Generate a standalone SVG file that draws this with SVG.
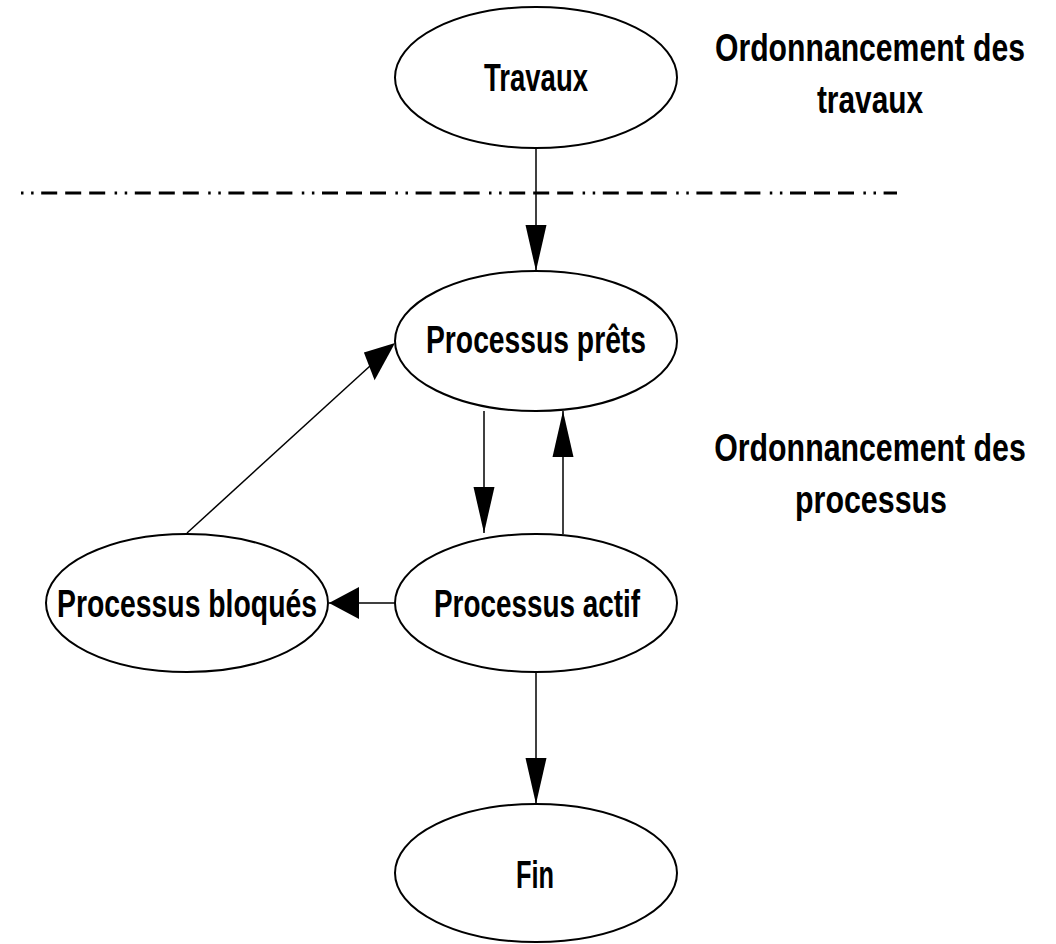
<svg xmlns="http://www.w3.org/2000/svg" width="1056" height="944" viewBox="0 0 1056 944">
  <style>
    .node ellipse { fill: #ffffff; stroke: #000000; stroke-width: 2; }
    .node text { font-family: "Liberation Sans", Arial, sans-serif; font-weight: bold; font-size: 38px; fill: #000000; text-anchor: middle; }
    .label text { font-family: "Liberation Sans", Arial, sans-serif; font-weight: bold; font-size: 39px; fill: #000000; text-anchor: middle; }
    .edge { stroke: #000000; stroke-width: 1.5; fill: none; }
    .head { fill: #000000; stroke: none; }
    .separator { stroke: #000000; stroke-width: 3; stroke-dasharray: 2.5 7.6 2.5 7.6 16 8 16 8 16 9.4; }
  </style>
  <defs>
    <!-- long narrow head for vertical connectors -->
    <marker id="arrow-v" markerUnits="userSpaceOnUse" markerWidth="46" markerHeight="21" refX="46" refY="10.5" orient="auto" overflow="visible">
      <path class="head" d="M0,0 L46,10.5 L0,21 Z"/>
    </marker>
    <!-- short wide head for horizontal connectors -->
    <marker id="arrow-h" markerUnits="userSpaceOnUse" markerWidth="30" markerHeight="32" refX="30" refY="16" orient="auto" overflow="visible">
      <path class="head" d="M0,0 L30,16 L0,32 Z"/>
    </marker>
  </defs>

  <rect x="0" y="0" width="1056" height="944" fill="#ffffff"/>

  <!-- boundary between job scheduling and process scheduling -->
  <line class="separator" x1="21" y1="193" x2="897" y2="193"/>

  <g id="connectors">
    <line class="edge" x1="536" y1="148" x2="536" y2="271" marker-end="url(#arrow-v)"/>
    <line class="edge" x1="484" y1="411" x2="484" y2="533" marker-end="url(#arrow-v)"/>
    <line class="edge" x1="563" y1="534" x2="563" y2="411" marker-end="url(#arrow-v)"/>
    <line class="edge" x1="395" y1="603" x2="329" y2="603" marker-end="url(#arrow-h)"/>
    <line class="edge" x1="187" y1="533" x2="370" y2="366"/>
    <polygon class="head" points="395,343 374.6,380.3 363.9,352.5"/>
    <line class="edge" x1="536" y1="672" x2="536" y2="804" marker-end="url(#arrow-v)"/>
  </g>

  <g id="travaux" class="node">
    <ellipse cx="536" cy="77.5" rx="141" ry="70.5"/>
    <text x="536" y="91" textLength="104" lengthAdjust="spacingAndGlyphs">Travaux</text>
  </g>

  <g id="processus-prets" class="node">
    <ellipse cx="536" cy="341" rx="141" ry="70"/>
    <text x="536" y="353" textLength="220" lengthAdjust="spacingAndGlyphs">Processus prêts</text>
  </g>

  <g id="processus-bloques" class="node">
    <ellipse cx="187" cy="603" rx="141" ry="69"/>
    <text x="187" y="617" textLength="260" lengthAdjust="spacingAndGlyphs">Processus bloqués</text>
  </g>

  <g id="processus-actif" class="node">
    <ellipse cx="536" cy="603" rx="141" ry="69"/>
    <text x="537" y="617" textLength="206" lengthAdjust="spacingAndGlyphs">Processus actif</text>
  </g>

  <g id="fin" class="node">
    <ellipse cx="536" cy="873" rx="141" ry="69"/>
    <text x="535" y="888" textLength="38" lengthAdjust="spacingAndGlyphs">Fin</text>
  </g>

  <!-- side captions, horizontally condensed -->
  <g id="label-travaux" class="label">
    <text transform="translate(870 61) scale(0.775 1)" textLength="400" lengthAdjust="spacingAndGlyphs">Ordonnancement des</text>
    <text transform="translate(870 113) scale(0.775 1)" textLength="137" lengthAdjust="spacingAndGlyphs">travaux</text>
  </g>

  <g id="label-processus" class="label">
    <text transform="translate(870 461) scale(0.775 1)" textLength="402" lengthAdjust="spacingAndGlyphs">Ordonnancement des</text>
    <text transform="translate(871 513) scale(0.775 1)" textLength="196" lengthAdjust="spacingAndGlyphs">processus</text>
  </g>
</svg>
